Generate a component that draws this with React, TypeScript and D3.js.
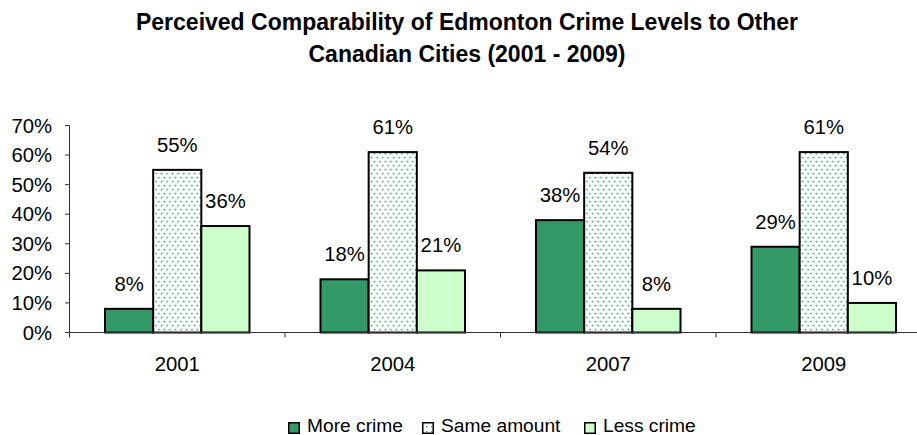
import React from "react";
import * as d3 from "d3";

const years = ["2001", "2004", "2007", "2009"];
const seriesNames = ["More crime", "Same amount", "Less crime"];
const moreCrime = [8, 18, 38, 29];
const sameAmount = [55, 61, 54, 61];
const lessCrime = [36, 21, 8, 10];
const yTicks = [0, 10, 20, 30, 40, 50, 60, 70];
const titleLines = [
  "Perceived Comparability of Edmonton Crime Levels to Other",
  "Canadian Cities (2001 - 2009)",
];

const W = 917;
const H = 435;
const FONT = "Arial, 'Liberation Sans', sans-serif";
const fills = ["#339966", "url(#dots)", "#CCFFCC"];

export default function App() {
  const x = d3.scaleBand<string>().domain(years).range([69.5, 931.5]).padding(0);
  const xi = d3
    .scaleBand<string>()
    .domain(seriesNames)
    .range([35.5, x.bandwidth() - 35.5])
    .padding(0);
  const y = d3.scaleLinear().domain([0, 70]).range([332.5, 125.5]);
  const data = [moreCrime, sameAmount, lessCrime];

  return (
    <svg
      width={W}
      height={H}
      style={{ position: "absolute", left: 0, top: 0, background: "#fff" }}
      fontFamily={FONT}
    >
      <defs>
        <pattern id="dots" width="5.5" height="8" patternUnits="userSpaceOnUse">
          <rect width="5.5" height="8" fill="#fff" />
          <rect x="0.6" y="0.8" width="1.6" height="1.6" fill="#3f9d70" />
          <rect x="3.35" y="4.8" width="1.6" height="1.6" fill="#3f9d70" />
        </pattern>
        <pattern id="dotsSmall" width="5" height="5" patternUnits="userSpaceOnUse">
          <rect width="5" height="5" fill="#fff" />
          <rect x="1" y="1" width="1.4" height="1.4" fill="#3f9d70" />
        </pattern>
      </defs>
      <rect width={W} height={H} fill="#fff" />
      {titleLines.map((t, i) => (
        <text
          key={i}
          x={467}
          y={30 + i * 32}
          textAnchor="middle"
          fontWeight="bold"
          fontSize={23}
          fill="#000"
        >
          {t}
        </text>
      ))}
      {/* y axis */}
      <line x1={69.5} x2={69.5} y1={y(70)} y2={y(0)} stroke="#333" strokeWidth={1} />
      {yTicks.map((t) => (
        <g key={t}>
          <line x1={65} x2={69.5} y1={y(t)} y2={y(t)} stroke="#333" />
          <text x={52} y={y(t) + 7} textAnchor="end" fontSize={20.3} fill="#000">
            {t}%
          </text>
        </g>
      ))}
      {/* bars */}
      {years.map((yr, gi) => (
        <g key={yr} transform={`translate(${x(yr)},0)`}>
          {seriesNames.map((s, si) => {
            const v = data[si][gi];
            const bx = xi(s)!;
            return (
              <g key={s}>
                <rect
                  x={bx}
                  y={y(v)}
                  width={xi.bandwidth()}
                  height={y(0) - y(v)}
                  fill={fills[si]}
                  stroke="#000"
                  strokeWidth={2}
                />
                <text
                  x={bx + xi.bandwidth() / 2}
                  y={y(v) - 18}
                  textAnchor="middle"
                  fontSize={20.3}
                  fill="#000"
                >
                  {v}%
                </text>
              </g>
            );
          })}
        </g>
      ))}
      {/* x axis */}
      <line x1={69.5} x2={W} y1={y(0)} y2={y(0)} stroke="#333" strokeWidth={1} />
      {[...years.map((yr) => x(yr)!), 931.5].map((t, i) => (
        <line key={i} x1={t} x2={t} y1={y(0)} y2={y(0) + 5} stroke="#333" />
      ))}
      {years.map((yr) => (
        <text
          key={yr}
          x={x(yr)! + x.bandwidth() / 2}
          y={371}
          textAnchor="middle"
          fontSize={20.3}
          fill="#000"
        >
          {yr}
        </text>
      ))}
      {/* legend */}
      {seriesNames.map((s, i) => {
        const lx = [288, 422, 584][i];
        return (
          <g key={s}>
            <rect
              x={lx + 0.75}
              y={422.75}
              width={10.5}
              height={10.5}
              fill={i === 1 ? "url(#dotsSmall)" : fills[i]}
              stroke="#000"
              strokeWidth={1.5}
            />
            <text x={lx + 19} y={432} fontSize={19.2} fill="#000">
              {s}
            </text>
          </g>
        );
      })}
    </svg>
  );
}
